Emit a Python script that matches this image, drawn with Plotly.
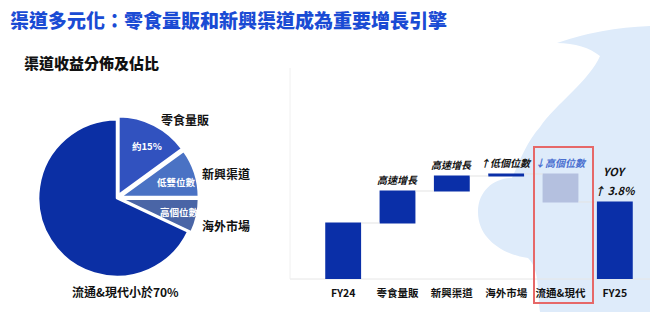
import numpy as np
import plotly.graph_objects as go

# ---------------- data ----------------
pie_labels = ["零食量販", "新興渠道", "海外市場", "流通&現代"]
pie_values = [15, 10, 7, 68]
pie_inner_text = ["約15%", "低雙位數", "高個位數", ""]
pie_outer_text = ["零食量販", "新興渠道", "海外市場", "流通&現代小於70%"]

wf_categories = ["FY24", "零食量販", "新興渠道", "海外市場", "流通&現代", "FY25"]
wf_measures = ["absolute", "relative", "relative", "relative", "relative", "total"]
wf_values = [56, 32, 15, 2, -28, 0]
wf_notes = ["", "高速增長", "高速增長", "↑低個位數", "↓高個位數", "↑ 3.8%"]
wf_total_head = "YOY"

title_text = "渠道多元化：零食量販和新興渠道成為重要增長引擎"
subtitle_text = "渠道收益分佈及佔比"

# ---------------- helpers ----------------
W, H = 650, 312
FONT = "Noto Sans CJK TC"


def px(x):
    return x / W


def py(y):
    return 1 - y / H


fig = go.Figure()

# pie
fig.add_trace(go.Pie(
    labels=pie_labels,
    values=pie_values,
    textinfo="none",
    sort=False,
    direction="clockwise",
    rotation=0,
    pull=[0.04, 0.04, 0.04, 0],
    marker=dict(colors=["#3152bf", "#4a72c4", "#4a65a6", "#0b2fa4"],
                line=dict(color="white", width=2.5)),
    domain=dict(x=[px(35), px(199)], y=[py(280), py(116)]),
    showlegend=False,
    hoverinfo="skip",
))

# waterfall
fig.add_trace(go.Waterfall(
    x=wf_categories,
    y=wf_values,
    measure=wf_measures,
    increasing=dict(marker=dict(color="#0a2fa8")),
    decreasing=dict(marker=dict(color="#b4c0df")),
    totals=dict(marker=dict(color="#0a2fa8")),
    connector=dict(line=dict(color="#e3e3e3", width=1)),
    showlegend=False,
    hoverinfo="skip",
    xaxis="x", yaxis="y",
))

# cumulative tops for notes
vals = np.array(wf_values[:-1], dtype=float)
cum = np.cumsum(vals)
starts = np.concatenate([[0], cum[:-1]])
tops = list(np.maximum(starts, cum)) + [cum[-1]]

annotations = []
for i, (cat, note) in enumerate(zip(wf_categories, wf_notes)):
    if not note:
        continue
    color = "#4a6fd0" if "↓" in note else "#111111"
    annotations.append(dict(
        x=cat, y=tops[i], xref="x", yref="y", yanchor="bottom",
        text="<i>" + note + "</i>", showarrow=False, yshift=2,
        font=dict(family=FONT, size=10 if i < 5 else 11, color=color, weight=700),
    ))
annotations.append(dict(
    x=wf_categories[-1], y=tops[-1], xref="x", yref="y", yanchor="bottom",
    text="<i>" + wf_total_head + "</i>", showarrow=False, yshift=21,
    font=dict(family=FONT, size=11, color="#111111", weight=700),
))

# titles
annotations.append(dict(x=px(8), y=py(19), xref="paper", yref="paper",
                        xanchor="left", yanchor="middle", showarrow=False,
                        text=title_text,
                        font=dict(family=FONT, size=19, color="#1a4bd4", weight=900)))
annotations.append(dict(x=px(22), y=py(63), xref="paper", yref="paper",
                        xanchor="left", yanchor="middle", showarrow=False,
                        text=subtitle_text,
                        font=dict(family=FONT, size=15, color="#111111", weight=900)))

# pie inner labels
inner_pos = [(147, 146), (176, 182), (179, 212)]
for t, (x, y) in zip(pie_inner_text, inner_pos):
    annotations.append(dict(x=px(x), y=py(y), xref="paper", yref="paper",
                            xanchor="center", yanchor="middle", showarrow=False,
                            text=t,
                            font=dict(family=FONT, size=9.5, color="white", weight=700)))

# pie outer labels
outer_pos = [(185, 119), (226, 173), (226, 225), (125, 291)]
for t, (x, y) in zip(pie_outer_text, outer_pos):
    annotations.append(dict(x=px(x), y=py(y), xref="paper", yref="paper",
                            xanchor="center", yanchor="middle", showarrow=False,
                            text=t,
                            font=dict(family=FONT, size=12, color="#111111", weight=700)))


def path_px(cmds):
    out = []
    for c in cmds:
        if isinstance(c, str):
            out.append(c)
        else:
            out.append(f"{px(c[0]):.4f},{py(c[1]):.4f}")
    return " ".join(out)


cloud = path_px([
    "M", (557, 43),
    "Q", (600, 28), (650, 26),
    "L", (650, 312),
    "L", (540, 312),
    "C", (537, 290), (540, 270), (528, 258),
    "C", (505, 255), (478, 240), (478, 212),
    "C", (478, 190), (495, 178), (512, 178),
    "C", (520, 160), (528, 140), (540, 127),
    "C", (555, 105), (590, 80), (600, 56),
    "C", (590, 48), (575, 43), (557, 43),
    "Z",
])

shapes = [
    dict(type="path", path=cloud, xref="paper", yref="paper",
         fillcolor="#deebfa", line=dict(width=0), layer="below"),
    dict(type="line", xref="paper", yref="paper", x0=px(290), x1=px(650),
         y0=py(279), y1=py(279), line=dict(color="#e6e6e6", width=1), layer="below"),
    dict(type="line", xref="paper", yref="paper", x0=px(290), x1=px(290),
         y0=py(68), y1=py(279), line=dict(color="#f0f0f0", width=1), layer="below"),
    dict(type="rect", xref="paper", yref="paper", x0=px(534), x1=px(593),
         y0=py(303), y1=py(147), line=dict(color="#e66868", width=2)),
]

fig.update_layout(
    width=W, height=H,
    margin=dict(l=0, r=0, t=0, b=0),
    paper_bgcolor="white",
    plot_bgcolor="rgba(0,0,0,0)",
    font=dict(family=FONT),
    waterfallgap=0.34,
    xaxis=dict(domain=[px(316), px(642)], showgrid=False, zeroline=False,
               showline=False, ticks="", ticklabelstandoff=6,
               tickfont=dict(family=FONT, size=10.5, color="#111111", weight=700),
               fixedrange=True),
    yaxis=dict(domain=[py(279), py(159)], range=[0, 120], visible=False,
               fixedrange=True),
    annotations=annotations,
    shapes=shapes,
)

fig.write_html("out.html")
